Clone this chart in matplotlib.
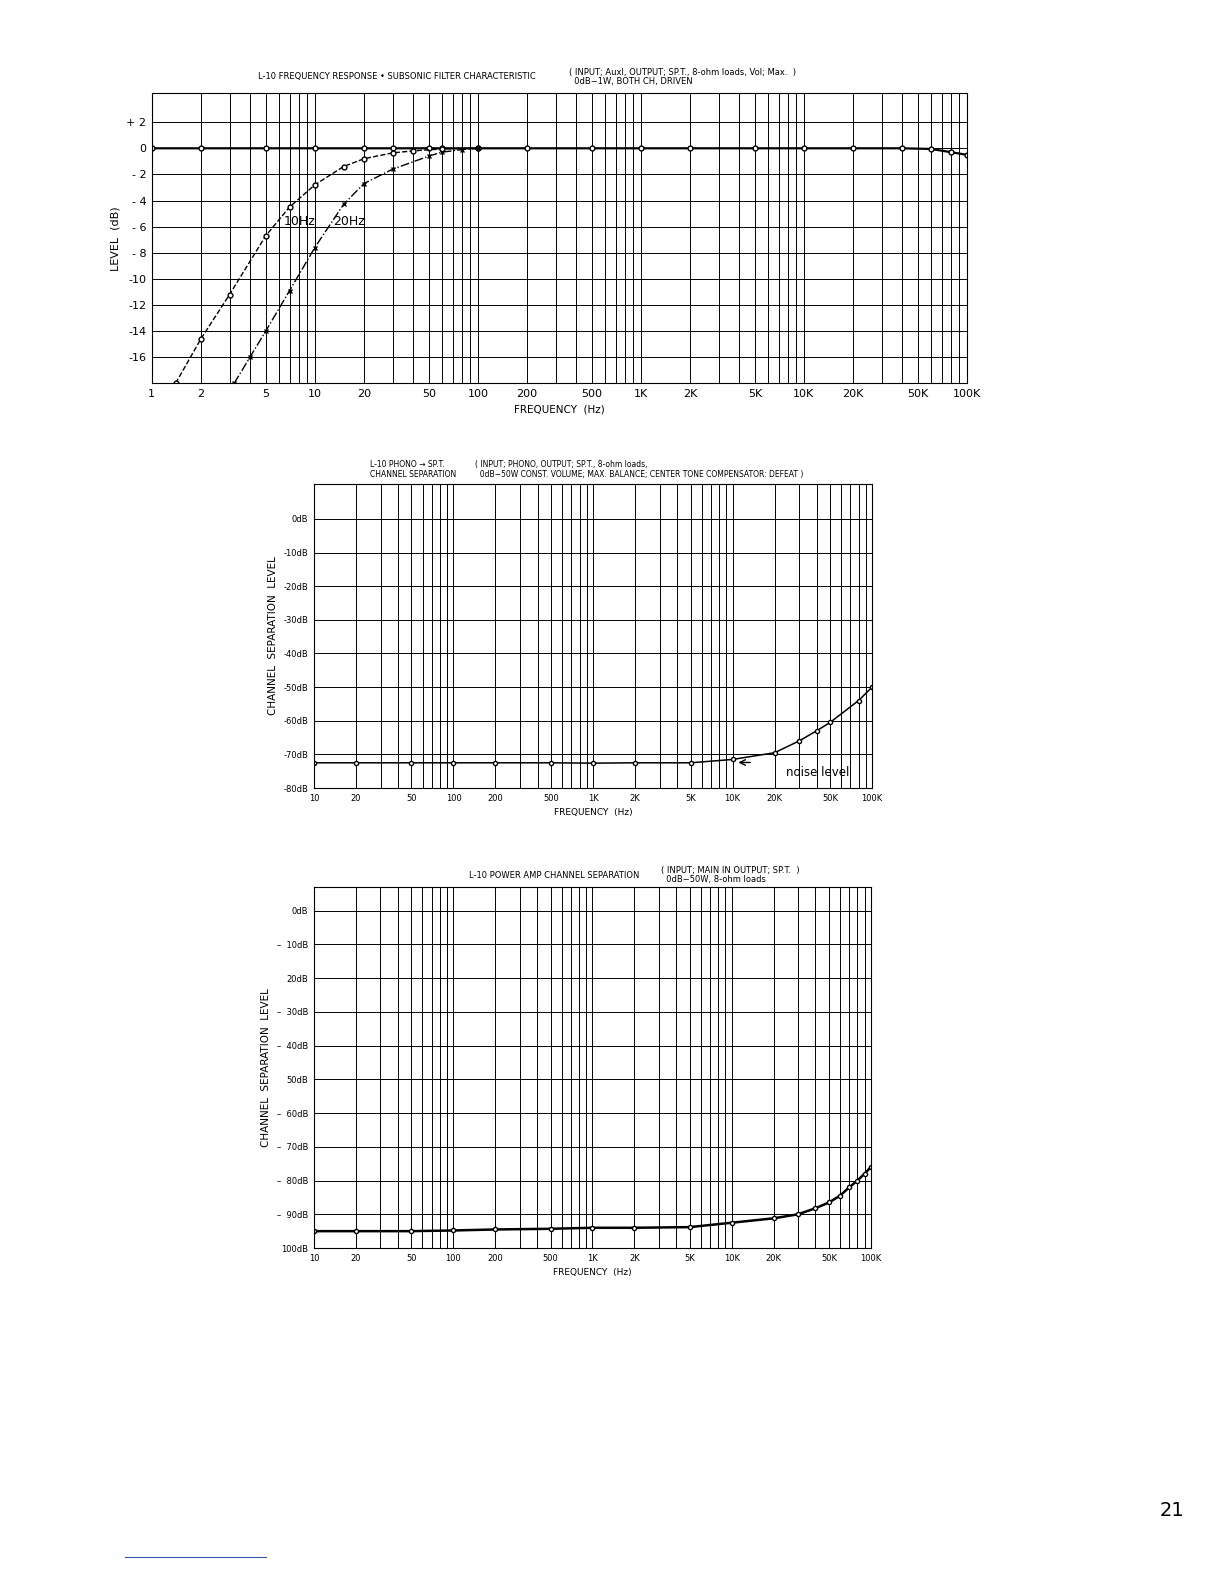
import matplotlib
matplotlib.use("Agg")
import matplotlib.pyplot as plt
from matplotlib.ticker import FixedLocator, NullFormatter, LogLocator
import numpy as np

plt.rcParams['font.family'] = ['DejaVu Sans']

# Chart 1 data
flat_f = [1, 2, 5, 10, 20, 30, 50, 60, 100, 200, 500, 1000, 2000, 5000, 10000, 20000, 40000, 60000, 80000, 100000]
flat_db = [0, 0, 0, 0, 0, 0, 0, 0, 0, 0, 0, 0, 0, 0, 0, 0, 0, -0.05, -0.3, -0.5]
f10_f = [1.4, 2, 3, 5, 7, 10, 15, 20, 30, 40, 60, 100]
f10_db = [-18, -14.6, -11.2, -6.7, -4.5, -2.8, -1.4, -0.8, -0.35, -0.2, -0.05, 0]
f20_f = [3.2, 4, 5, 7, 10, 15, 20, 30, 50, 60, 80, 100]
f20_db = [-18, -16, -14, -10.9, -7.6, -4.3, -2.7, -1.6, -0.6, -0.3, -0.1, 0]
x1_ticks = [1, 2, 5, 10, 20, 50, 100, 200, 500, 1000, 2000, 5000, 10000, 20000, 50000, 100000]
x1_labels = ['1', '2', '5', '10', '20', '50', '100', '200', '500', '1K', '2K', '5K', '10K', '20K', '50K', '100K']
y1_ticks = [2, 0, -2, -4, -6, -8, -10, -12, -14, -16]
y1_labels = ['+ 2', '0', '- 2', '- 4', '- 6', '- 8', '-10', '-12', '-14', '-16']

# Chart 2 data
ph_f = [10, 20, 50, 100, 200, 500, 1000, 2000, 5000, 10000, 20000, 30000, 40000, 50000, 80000, 100000]
ph_db = [-72.5, -72.5, -72.5, -72.5, -72.5, -72.5, -72.6, -72.5, -72.5, -71.5, -69.5, -66, -63, -60.5, -54, -50]
y2_ticks = [0, -10, -20, -30, -40, -50, -60, -70, -80]
y2_labels = ['0dB', '-10dB', '-20dB', '-30dB', '-40dB', '-50dB', '-60dB', '-70dB', '-80dB']

# Chart 3 data
pa_f = [10, 20, 50, 100, 200, 500, 1000, 2000, 5000, 10000, 20000, 30000, 40000, 50000, 60000, 70000, 80000, 90000, 100000]
pa_db = [-95, -95, -95, -94.8, -94.5, -94.3, -94, -94, -93.8, -92.5, -91.2, -90, -88.2, -86.5, -84.5, -82, -80, -78, -76]
y3_ticks = [0, -10, -20, -30, -40, -50, -60, -70, -80, -90, -100]
y3_labels = ['0dB', '–  10dB', '20dB', '–  30dB', '–  40dB', '50dB', '–  60dB', '–  70dB', '–  80dB', '–  90dB', '100dB']
x2_ticks = [10, 20, 50, 100, 200, 500, 1000, 2000, 5000, 10000, 20000, 50000, 100000]
x2_labels = ['10', '20', '50', '100', '200', '500', '1K', '2K', '5K', '10K', '20K', '50K', '100K']

fig = plt.figure(figsize=(12.24, 15.84), dpi=100)

def style(ax, xt, xl, yt, yl, fs):
    ax.set_xscale('log')
    ax.xaxis.set_major_locator(FixedLocator(xt))
    ax.set_xticklabels(xl, fontsize=fs)
    ax.xaxis.set_minor_locator(LogLocator(base=10, subs=np.arange(2, 10)))
    ax.xaxis.set_minor_formatter(NullFormatter())
    ax.set_yticks(yt)
    ax.set_yticklabels(yl, fontsize=fs)
    ax.grid(True, which='both', axis='x', color='black', lw=0.7)
    ax.grid(True, which='major', axis='y', color='black', lw=0.7)
    ax.tick_params(which='both', length=0, pad=4)
    for s in ax.spines.values():
        s.set_linewidth(0.8)

ax1 = fig.add_axes([0.124, 0.758, 0.666, 0.183])
ax1.plot(flat_f, flat_db, '-', color='black', lw=1.6, marker='o', ms=3.5, mfc='white')
ax1.plot(f10_f, f10_db, '--', color='black', lw=1.0, marker='o', ms=3.5, mfc='white')
ax1.plot(f20_f, f20_db, '-.', color='black', lw=1.0, marker='x', ms=3.5)
ax1.set_xlim(1, 100000)
ax1.set_ylim(-18, 4.2)
style(ax1, x1_ticks, x1_labels, y1_ticks, y1_labels, 8)
ax1.set_ylabel('LEVEL  (dB)', fontsize=8)
ax1.set_xlabel('FREQUENCY  (Hz)', fontsize=7.5)
ax1.text(6.4, -5.9, '10Hz', fontsize=9)
ax1.text(13, -5.9, '20Hz', fontsize=9)
fig.text(0.211, 0.950, 'L-10 FREQUENCY RESPONSE • SUBSONIC FILTER CHARACTERISTIC', fontsize=6)
fig.text(0.465, 0.947, '( INPUT; Auxl, OUTPUT; SP.T., 8-ohm loads, Vol; Max.  )\n  0dB−1W, BOTH CH, DRIVEN', fontsize=6, linespacing=1.0)

ax2 = fig.add_axes([0.2565, 0.5025, 0.456, 0.192])
ax2.plot(ph_f, ph_db, '-', color='black', lw=1.1, marker='o', ms=3, mfc='white')
ax2.set_xlim(10, 100000)
ax2.set_ylim(-80, 10.4)
style(ax2, x2_ticks, x2_labels, y2_ticks, y2_labels, 6)
ax2.set_ylabel('CHANNEL  SEPARATION  LEVEL', fontsize=7.5)
ax2.set_xlabel('FREQUENCY  (Hz)', fontsize=6.5)
ax2.text(24000, -76.5, 'noise level', fontsize=8.5)
ax2.annotate('', xy=(10500, -72.4), xytext=(14000, -72.4),
             arrowprops=dict(arrowstyle='->', color='black', lw=1))
fig.text(0.302, 0.699, 'L-10 PHONO → SP.T.\nCHANNEL SEPARATION', fontsize=5.5, linespacing=1.1)
fig.text(0.388, 0.699, '( INPUT; PHONO, OUTPUT; SP.T., 8-ohm loads,\n  0dB−50W CONST. VOLUME; MAX. BALANCE; CENTER TONE COMPENSATOR: DEFEAT )', fontsize=5.5, linespacing=1.1)

ax3 = fig.add_axes([0.2565, 0.2121, 0.455, 0.228])
ax3.plot(pa_f, pa_db, '-', color='black', lw=1.8, marker='o', ms=3, mfc='white')
ax3.set_xlim(10, 100000)
ax3.set_ylim(-100, 7)
style(ax3, x2_ticks, x2_labels, y3_ticks, y3_labels, 6)
ax3.set_ylabel('CHANNEL  SEPARATION  LEVEL', fontsize=7.5)
ax3.set_xlabel('FREQUENCY  (Hz)', fontsize=6.5)
fig.text(0.383, 0.446, 'L-10 POWER AMP CHANNEL SEPARATION', fontsize=6)
fig.text(0.540, 0.443, '( INPUT; MAIN IN OUTPUT; SP.T.  )\n  0dB−50W, 8-ohm loads', fontsize=6, linespacing=1.0)

fig.text(0.947, 0.043, '21', fontsize=14)
fig.add_artist(plt.Line2D([0.102, 0.217], [0.017, 0.017], color='#3355aa', lw=0.8))

fig.savefig('out.png', dpi=100)
